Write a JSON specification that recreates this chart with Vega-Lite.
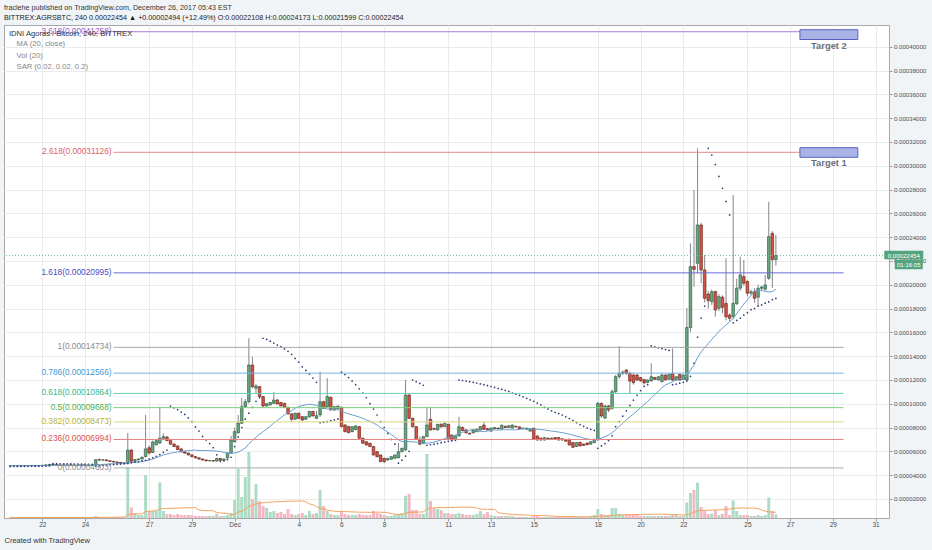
{
"$schema": "https://vega.github.io/schema/vega-lite/v6.json",
"width": 885, "height": 493,
"autosize": {"type": "none"},
"padding": {"left": 4, "top": 25, "right": 43, "bottom": 32},
"background": "#f1f4f7",
"view": {"fill": "#ffffff", "stroke": "#a8a8a8", "strokeWidth": 1},
"config": {
  "font": "Liberation Sans",
  "view": {"fill": "#ffffff", "stroke": "#a8a8a8", "strokeWidth": 1},
  "axis": {"gridColor": "#ebebeb", "gridWidth": 1, "domain": false, "tickColor": "#9a9a9a", "labelColor": "#4d4d4d", "labelOverlap": false, "labelSeparation": 0},
  "axisY": {"labelOverlap": false, "labelBound": false}
},
"title": {
  "text": "fraclehe published on TradingView.com, December 26, 2017 05:43 EST",
  "subtitle": "BITTREX:AGRSBTC, 240  0.00022454 ▲ +0.00002494 (+12.49%)  O:0.00022108  H:0.00024173  L:0.00021599  C:0.00022454",
  "anchor": "start", "frame": "group", "offset": 4,
  "fontSize": 7.2, "fontWeight": "normal", "color": "#333333",
  "subtitleFontSize": 7.2, "subtitleColor": "#1a1a1a", "subtitlePadding": 3
},
"datasets": {
"candles": [
{"t":"2017-11-20T12:00Z","o":4780e-8,"h":4820e-8,"l":4750e-8,"c":4790e-8,"v":1,"s":4720e-8},
{"t":"2017-11-20T16:00Z","o":4790e-8,"h":4830e-8,"l":4760e-8,"c":4800e-8,"v":1,"s":4725e-8},
{"t":"2017-11-20T20:00Z","o":4800e-8,"h":4840e-8,"l":4770e-8,"c":4780e-8,"v":1,"s":4730e-8},
{"t":"2017-11-21T00:00Z","o":4780e-8,"h":4810e-8,"l":4750e-8,"c":4770e-8,"v":1,"s":4735e-8},
{"t":"2017-11-21T04:00Z","o":4770e-8,"h":4800e-8,"l":4740e-8,"c":4790e-8,"v":1,"s":4738e-8},
{"t":"2017-11-21T08:00Z","o":4790e-8,"h":4830e-8,"l":4770e-8,"c":4810e-8,"v":1,"s":4742e-8},
{"t":"2017-11-21T12:00Z","o":4810e-8,"h":4840e-8,"l":4780e-8,"c":4790e-8,"v":1,"s":4745e-8},
{"t":"2017-11-21T16:00Z","o":4790e-8,"h":4820e-8,"l":4760e-8,"c":4780e-8,"v":1,"s":4748e-8},
{"t":"2017-11-21T20:00Z","o":4780e-8,"h":4810e-8,"l":4760e-8,"c":4800e-8,"v":1,"s":4750e-8},
{"t":"2017-11-22T00:00Z","o":4800e-8,"h":4850e-8,"l":4780e-8,"c":4830e-8,"v":1,"s":4755e-8},
{"t":"2017-11-22T04:00Z","o":4830e-8,"h":4880e-8,"l":4810e-8,"c":4860e-8,"v":1,"s":4760e-8},
{"t":"2017-11-22T08:00Z","o":4860e-8,"h":4920e-8,"l":4840e-8,"c":4900e-8,"v":1,"s":4770e-8},
{"t":"2017-11-22T12:00Z","o":4900e-8,"h":4940e-8,"l":4860e-8,"c":4870e-8,"v":1,"s":4960e-8},
{"t":"2017-11-22T16:00Z","o":4870e-8,"h":4900e-8,"l":4830e-8,"c":4850e-8,"v":1,"s":4955e-8},
{"t":"2017-11-22T20:00Z","o":4850e-8,"h":4890e-8,"l":4820e-8,"c":4860e-8,"v":1,"s":4950e-8},
{"t":"2017-11-23T00:00Z","o":4860e-8,"h":4900e-8,"l":4830e-8,"c":4840e-8,"v":1,"s":4945e-8},
{"t":"2017-11-23T04:00Z","o":4840e-8,"h":4880e-8,"l":4810e-8,"c":4850e-8,"v":1,"s":4940e-8},
{"t":"2017-11-23T08:00Z","o":4850e-8,"h":4890e-8,"l":4820e-8,"c":4830e-8,"v":1,"s":4935e-8},
{"t":"2017-11-23T12:00Z","o":4830e-8,"h":4860e-8,"l":4800e-8,"c":4820e-8,"v":1,"s":4930e-8},
{"t":"2017-11-23T16:00Z","o":4820e-8,"h":4850e-8,"l":4790e-8,"c":4810e-8,"v":1,"s":4925e-8},
{"t":"2017-11-23T20:00Z","o":4810e-8,"h":4840e-8,"l":4780e-8,"c":4800e-8,"v":1,"s":4920e-8},
{"t":"2017-11-24T00:00Z","o":4800e-8,"h":4830e-8,"l":4770e-8,"c":4790e-8,"v":1,"s":4915e-8},
{"t":"2017-11-24T04:00Z","o":4790e-8,"h":4830e-8,"l":4770e-8,"c":4810e-8,"v":1,"s":4910e-8},
{"t":"2017-11-24T08:00Z","o":4810e-8,"h":4870e-8,"l":4790e-8,"c":4850e-8,"v":1,"s":4905e-8},
{"t":"2017-11-24T12:00Z","o":4850e-8,"h":5350e-8,"l":4830e-8,"c":5300e-8,"v":4,"s":4760e-8},
{"t":"2017-11-24T16:00Z","o":5300e-8,"h":5380e-8,"l":5220e-8,"c":5260e-8,"v":2,"s":4780e-8},
{"t":"2017-11-24T20:00Z","o":5260e-8,"h":5330e-8,"l":5200e-8,"c":5280e-8,"v":2,"s":4810e-8},
{"t":"2017-11-25T00:00Z","o":5280e-8,"h":5320e-8,"l":5180e-8,"c":5200e-8,"v":2,"s":4840e-8},
{"t":"2017-11-25T04:00Z","o":5200e-8,"h":5260e-8,"l":5120e-8,"c":5150e-8,"v":2,"s":4870e-8},
{"t":"2017-11-25T08:00Z","o":5150e-8,"h":5200e-8,"l":5050e-8,"c":5100e-8,"v":2,"s":4890e-8},
{"t":"2017-11-25T12:00Z","o":5100e-8,"h":5150e-8,"l":5020e-8,"c":5060e-8,"v":2,"s":4910e-8},
{"t":"2017-11-25T16:00Z","o":5060e-8,"h":5100e-8,"l":4980e-8,"c":5020e-8,"v":2,"s":4930e-8},
{"t":"2017-11-25T20:00Z","o":5020e-8,"h":5080e-8,"l":4970e-8,"c":5000e-8,"v":3,"s":4950e-8},
{"t":"2017-11-26T00:00Z","o":5000e-8,"h":7540e-8,"l":4950e-8,"c":6100e-8,"v":102,"s":4970e-8},
{"t":"2017-11-26T04:00Z","o":6100e-8,"h":6200e-8,"l":5100e-8,"c":5170e-8,"v":21,"s":5030e-8},
{"t":"2017-11-26T08:00Z","o":5170e-8,"h":5350e-8,"l":5120e-8,"c":5300e-8,"v":10,"s":5090e-8},
{"t":"2017-11-26T12:00Z","o":5300e-8,"h":5420e-8,"l":5250e-8,"c":5350e-8,"v":6,"s":5140e-8},
{"t":"2017-11-26T16:00Z","o":5350e-8,"h":5560e-8,"l":5300e-8,"c":5500e-8,"v":6,"s":5190e-8},
{"t":"2017-11-26T20:00Z","o":5550e-8,"h":9050e-8,"l":5500e-8,"c":6200e-8,"v":86,"s":5240e-8},
{"t":"2017-11-27T00:00Z","o":6300e-8,"h":6500e-8,"l":5700e-8,"c":5860e-8,"v":14,"s":5350e-8},
{"t":"2017-11-27T04:00Z","o":5900e-8,"h":6900e-8,"l":5850e-8,"c":6780e-8,"v":14,"s":5450e-8},
{"t":"2017-11-27T08:00Z","o":6550e-8,"h":7000e-8,"l":6500e-8,"c":6900e-8,"v":14,"s":5580e-8},
{"t":"2017-11-27T12:00Z","o":6700e-8,"h":9750e-8,"l":6600e-8,"c":7100e-8,"v":71,"s":5720e-8},
{"t":"2017-11-27T16:00Z","o":7100e-8,"h":7500e-8,"l":6950e-8,"c":7230e-8,"v":14,"s":5900e-8},
{"t":"2017-11-27T20:00Z","o":7200e-8,"h":7300e-8,"l":6850e-8,"c":6900e-8,"v":8,"s":6100e-8},
{"t":"2017-11-28T00:00Z","o":6900e-8,"h":6950e-8,"l":6550e-8,"c":6600e-8,"v":8,"s":9800e-8},
{"t":"2017-11-28T04:00Z","o":6600e-8,"h":6700e-8,"l":6350e-8,"c":6400e-8,"v":6,"s":9650e-8},
{"t":"2017-11-28T08:00Z","o":6450e-8,"h":6500e-8,"l":6100e-8,"c":6150e-8,"v":8,"s":9500e-8},
{"t":"2017-11-28T12:00Z","o":6200e-8,"h":6250e-8,"l":5900e-8,"c":5950e-8,"v":6,"s":9300e-8},
{"t":"2017-11-28T16:00Z","o":5950e-8,"h":6050e-8,"l":5800e-8,"c":5850e-8,"v":6,"s":9100e-8},
{"t":"2017-11-28T20:00Z","o":5850e-8,"h":5900e-8,"l":5650e-8,"c":5700e-8,"v":6,"s":8800e-8},
{"t":"2017-11-29T00:00Z","o":5700e-8,"h":5750e-8,"l":5500e-8,"c":5550e-8,"v":6,"s":8500e-8},
{"t":"2017-11-29T04:00Z","o":5550e-8,"h":5600e-8,"l":5400e-8,"c":5450e-8,"v":4,"s":8050e-8},
{"t":"2017-11-29T08:00Z","o":5450e-8,"h":5500e-8,"l":5300e-8,"c":5350e-8,"v":4,"s":7700e-8},
{"t":"2017-11-29T12:00Z","o":5350e-8,"h":5400e-8,"l":5230e-8,"c":5270e-8,"v":4,"s":7250e-8},
{"t":"2017-11-29T16:00Z","o":5270e-8,"h":5300e-8,"l":5150e-8,"c":5200e-8,"v":4,"s":6950e-8},
{"t":"2017-11-29T20:00Z","o":5200e-8,"h":5280e-8,"l":5150e-8,"c":5220e-8,"v":4,"s":6650e-8},
{"t":"2017-11-30T00:00Z","o":5220e-8,"h":5260e-8,"l":5120e-8,"c":5180e-8,"v":4,"s":6300e-8},
{"t":"2017-11-30T04:00Z","o":5180e-8,"h":5450e-8,"l":5150e-8,"c":5400e-8,"v":8,"s":5700e-8},
{"t":"2017-11-30T08:00Z","o":5400e-8,"h":5420e-8,"l":5200e-8,"c":5250e-8,"v":4,"s":5150e-8},
{"t":"2017-11-30T12:00Z","o":5250e-8,"h":5380e-8,"l":5200e-8,"c":5350e-8,"v":4,"s":5200e-8},
{"t":"2017-11-30T16:00Z","o":5440e-8,"h":5900e-8,"l":5400e-8,"c":5860e-8,"v":6,"s":5300e-8},
{"t":"2017-11-30T20:00Z","o":5850e-8,"h":7300e-8,"l":5800e-8,"c":6950e-8,"v":10,"s":5500e-8},
{"t":"2017-12-01T00:00Z","o":6800e-8,"h":8000e-8,"l":6750e-8,"c":7650e-8,"v":36,"s":6400e-8},
{"t":"2017-12-01T04:00Z","o":7550e-8,"h":9050e-8,"l":7500e-8,"c":8380e-8,"v":98,"s":7200e-8},
{"t":"2017-12-01T08:00Z","o":8350e-8,"h":10480e-8,"l":8300e-8,"c":9750e-8,"v":42,"s":8000e-8},
{"t":"2017-12-01T12:00Z","o":9750e-8,"h":10400e-8,"l":9650e-8,"c":10170e-8,"v":82,"s":8700e-8},
{"t":"2017-12-01T16:00Z","o":10170e-8,"h":15500e-8,"l":10000e-8,"c":13250e-8,"v":132,"s":9200e-8},
{"t":"2017-12-01T20:00Z","o":13250e-8,"h":13950e-8,"l":11300e-8,"c":11430e-8,"v":38,"s":9700e-8},
{"t":"2017-12-02T00:00Z","o":11300e-8,"h":11650e-8,"l":10900e-8,"c":11490e-8,"v":68,"s":10200e-8},
{"t":"2017-12-02T04:00Z","o":11430e-8,"h":11500e-8,"l":10550e-8,"c":10600e-8,"v":34,"s":10500e-8},
{"t":"2017-12-02T08:00Z","o":10600e-8,"h":10650e-8,"l":9700e-8,"c":9810e-8,"v":24,"s":15500e-8},
{"t":"2017-12-02T12:00Z","o":9810e-8,"h":10050e-8,"l":9750e-8,"c":10000e-8,"v":20,"s":15400e-8},
{"t":"2017-12-02T16:00Z","o":9900e-8,"h":10150e-8,"l":9850e-8,"c":10100e-8,"v":12,"s":15250e-8},
{"t":"2017-12-02T20:00Z","o":10030e-8,"h":11000e-8,"l":9980e-8,"c":10310e-8,"v":14,"s":15100e-8},
{"t":"2017-12-03T00:00Z","o":10310e-8,"h":10400e-8,"l":9950e-8,"c":9980e-8,"v":10,"s":14930e-8},
{"t":"2017-12-03T04:00Z","o":10100e-8,"h":10150e-8,"l":9780e-8,"c":9810e-8,"v":12,"s":14800e-8},
{"t":"2017-12-03T08:00Z","o":10030e-8,"h":10080e-8,"l":9650e-8,"c":9700e-8,"v":8,"s":14600e-8},
{"t":"2017-12-03T12:00Z","o":9700e-8,"h":9750e-8,"l":9100e-8,"c":9140e-8,"v":18,"s":14400e-8},
{"t":"2017-12-03T16:00Z","o":9140e-8,"h":9200e-8,"l":8500e-8,"c":8690e-8,"v":8,"s":14150e-8},
{"t":"2017-12-03T20:00Z","o":8690e-8,"h":9250e-8,"l":8650e-8,"c":9200e-8,"v":6,"s":13800e-8},
{"t":"2017-12-04T00:00Z","o":9200e-8,"h":9250e-8,"l":8700e-8,"c":8770e-8,"v":8,"s":13500e-8},
{"t":"2017-12-04T04:00Z","o":8910e-8,"h":8950e-8,"l":8550e-8,"c":8630e-8,"v":10,"s":13100e-8},
{"t":"2017-12-04T08:00Z","o":8690e-8,"h":8950e-8,"l":8650e-8,"c":8910e-8,"v":6,"s":12800e-8},
{"t":"2017-12-04T12:00Z","o":8880e-8,"h":9400e-8,"l":8850e-8,"c":9350e-8,"v":14,"s":12500e-8},
{"t":"2017-12-04T16:00Z","o":9350e-8,"h":9400e-8,"l":8950e-8,"c":8970e-8,"v":8,"s":12150e-8},
{"t":"2017-12-04T20:00Z","o":8770e-8,"h":9400e-8,"l":8700e-8,"c":8990e-8,"v":10,"s":11800e-8},
{"t":"2017-12-05T00:00Z","o":9050e-8,"h":12690e-8,"l":8900e-8,"c":10170e-8,"v":56,"s":8400e-8},
{"t":"2017-12-05T04:00Z","o":10170e-8,"h":10250e-8,"l":9550e-8,"c":9610e-8,"v":24,"s":8450e-8},
{"t":"2017-12-05T08:00Z","o":9750e-8,"h":12140e-8,"l":9700e-8,"c":10600e-8,"v":14,"s":8500e-8},
{"t":"2017-12-05T12:00Z","o":10540e-8,"h":10600e-8,"l":9400e-8,"c":9470e-8,"v":8,"s":8580e-8},
{"t":"2017-12-05T16:00Z","o":9470e-8,"h":9800e-8,"l":9400e-8,"c":9750e-8,"v":6,"s":8650e-8},
{"t":"2017-12-05T20:00Z","o":9600e-8,"h":9850e-8,"l":9550e-8,"c":9800e-8,"v":6,"s":8720e-8},
{"t":"2017-12-06T00:00Z","o":9700e-8,"h":9750e-8,"l":8000e-8,"c":8070e-8,"v":14,"s":12650e-8},
{"t":"2017-12-06T04:00Z","o":8210e-8,"h":8300e-8,"l":7600e-8,"c":7650e-8,"v":8,"s":12450e-8},
{"t":"2017-12-06T08:00Z","o":8070e-8,"h":8150e-8,"l":7500e-8,"c":7570e-8,"v":6,"s":12200e-8},
{"t":"2017-12-06T12:00Z","o":7650e-8,"h":8100e-8,"l":7600e-8,"c":8070e-8,"v":6,"s":11900e-8},
{"t":"2017-12-06T16:00Z","o":7820e-8,"h":8200e-8,"l":7780e-8,"c":8130e-8,"v":6,"s":11600e-8},
{"t":"2017-12-06T20:00Z","o":8070e-8,"h":8100e-8,"l":7050e-8,"c":7100e-8,"v":8,"s":11250e-8},
{"t":"2017-12-07T00:00Z","o":7100e-8,"h":7150e-8,"l":6650e-8,"c":6680e-8,"v":6,"s":10900e-8},
{"t":"2017-12-07T04:00Z","o":6800e-8,"h":6850e-8,"l":6500e-8,"c":6530e-8,"v":6,"s":10500e-8},
{"t":"2017-12-07T08:00Z","o":6680e-8,"h":6700e-8,"l":6350e-8,"c":6400e-8,"v":6,"s":10000e-8},
{"t":"2017-12-07T12:00Z","o":6400e-8,"h":6450e-8,"l":5650e-8,"c":5690e-8,"v":14,"s":9550e-8},
{"t":"2017-12-07T16:00Z","o":5970e-8,"h":6000e-8,"l":5500e-8,"c":5550e-8,"v":10,"s":9050e-8},
{"t":"2017-12-07T20:00Z","o":5690e-8,"h":5720e-8,"l":5100e-8,"c":5130e-8,"v":8,"s":8500e-8},
{"t":"2017-12-08T00:00Z","o":5410e-8,"h":5450e-8,"l":5000e-8,"c":5130e-8,"v":6,"s":8000e-8},
{"t":"2017-12-08T04:00Z","o":5270e-8,"h":5420e-8,"l":5200e-8,"c":5400e-8,"v":4,"s":7500e-8},
{"t":"2017-12-08T08:00Z","o":5330e-8,"h":5580e-8,"l":5300e-8,"c":5550e-8,"v":4,"s":7000e-8},
{"t":"2017-12-08T12:00Z","o":5410e-8,"h":5720e-8,"l":5380e-8,"c":5690e-8,"v":6,"s":6600e-8},
{"t":"2017-12-08T16:00Z","o":5460e-8,"h":6700e-8,"l":5420e-8,"c":5970e-8,"v":8,"s":5000e-8},
{"t":"2017-12-08T20:00Z","o":5970e-8,"h":6300e-8,"l":5900e-8,"c":6250e-8,"v":10,"s":5250e-8},
{"t":"2017-12-09T00:00Z","o":6110e-8,"h":11990e-8,"l":6050e-8,"c":10730e-8,"v":44,"s":5600e-8},
{"t":"2017-12-09T04:00Z","o":10730e-8,"h":10800e-8,"l":8700e-8,"c":8770e-8,"v":48,"s":6000e-8},
{"t":"2017-12-09T08:00Z","o":8770e-8,"h":8850e-8,"l":8000e-8,"c":8070e-8,"v":16,"s":11990e-8},
{"t":"2017-12-09T12:00Z","o":8070e-8,"h":8100e-8,"l":6950e-8,"c":7000e-8,"v":16,"s":11850e-8},
{"t":"2017-12-09T16:00Z","o":7000e-8,"h":7250e-8,"l":6500e-8,"c":6600e-8,"v":8,"s":11700e-8},
{"t":"2017-12-09T20:00Z","o":6680e-8,"h":7300e-8,"l":6600e-8,"c":7230e-8,"v":8,"s":11550e-8},
{"t":"2017-12-10T00:00Z","o":7230e-8,"h":9750e-8,"l":7200e-8,"c":8210e-8,"v":128,"s":6500e-8},
{"t":"2017-12-10T04:00Z","o":8690e-8,"h":9750e-8,"l":7750e-8,"c":7790e-8,"v":34,"s":6550e-8},
{"t":"2017-12-10T08:00Z","o":7900e-8,"h":8000e-8,"l":7800e-8,"c":7850e-8,"v":20,"s":6600e-8},
{"t":"2017-12-10T12:00Z","o":7790e-8,"h":8300e-8,"l":7750e-8,"c":8270e-8,"v":18,"s":6660e-8},
{"t":"2017-12-10T16:00Z","o":8270e-8,"h":8350e-8,"l":8000e-8,"c":8050e-8,"v":16,"s":6720e-8},
{"t":"2017-12-10T20:00Z","o":8070e-8,"h":8400e-8,"l":8050e-8,"c":8350e-8,"v":10,"s":6780e-8},
{"t":"2017-12-11T00:00Z","o":8270e-8,"h":8300e-8,"l":7050e-8,"c":7100e-8,"v":10,"s":6840e-8},
{"t":"2017-12-11T04:00Z","o":7370e-8,"h":7400e-8,"l":6900e-8,"c":6950e-8,"v":8,"s":6880e-8},
{"t":"2017-12-11T08:00Z","o":7000e-8,"h":7350e-8,"l":6950e-8,"c":7300e-8,"v":8,"s":6920e-8},
{"t":"2017-12-11T12:00Z","o":7290e-8,"h":8900e-8,"l":7250e-8,"c":8070e-8,"v":10,"s":11990e-8},
{"t":"2017-12-11T16:00Z","o":8000e-8,"h":8100e-8,"l":7700e-8,"c":7750e-8,"v":8,"s":11950e-8},
{"t":"2017-12-11T20:00Z","o":7800e-8,"h":7850e-8,"l":7500e-8,"c":7550e-8,"v":6,"s":11900e-8},
{"t":"2017-12-12T00:00Z","o":7500e-8,"h":7600e-8,"l":7400e-8,"c":7450e-8,"v":6,"s":11850e-8},
{"t":"2017-12-12T04:00Z","o":7550e-8,"h":7850e-8,"l":7500e-8,"c":7800e-8,"v":6,"s":11800e-8},
{"t":"2017-12-12T08:00Z","o":7650e-8,"h":7900e-8,"l":7600e-8,"c":7850e-8,"v":8,"s":11740e-8},
{"t":"2017-12-12T12:00Z","o":7790e-8,"h":8100e-8,"l":7750e-8,"c":8070e-8,"v":14,"s":11660e-8},
{"t":"2017-12-12T16:00Z","o":8210e-8,"h":8500e-8,"l":7800e-8,"c":7850e-8,"v":8,"s":11600e-8},
{"t":"2017-12-12T20:00Z","o":7900e-8,"h":7950e-8,"l":7750e-8,"c":7800e-8,"v":12,"s":11520e-8},
{"t":"2017-12-13T00:00Z","o":7700e-8,"h":8000e-8,"l":7650e-8,"c":7950e-8,"v":6,"s":11440e-8},
{"t":"2017-12-13T04:00Z","o":7900e-8,"h":8050e-8,"l":7850e-8,"c":8000e-8,"v":4,"s":11370e-8},
{"t":"2017-12-13T08:00Z","o":7950e-8,"h":8000e-8,"l":7850e-8,"c":7900e-8,"v":4,"s":11280e-8},
{"t":"2017-12-13T12:00Z","o":7880e-8,"h":8250e-8,"l":7850e-8,"c":8190e-8,"v":4,"s":11200e-8},
{"t":"2017-12-13T16:00Z","o":8100e-8,"h":8150e-8,"l":7950e-8,"c":8000e-8,"v":4,"s":11120e-8},
{"t":"2017-12-13T20:00Z","o":8000e-8,"h":8200e-8,"l":7950e-8,"c":8150e-8,"v":4,"s":11030e-8},
{"t":"2017-12-14T00:00Z","o":7960e-8,"h":8250e-8,"l":7900e-8,"c":8210e-8,"v":4,"s":10900e-8},
{"t":"2017-12-14T04:00Z","o":8100e-8,"h":8150e-8,"l":8000e-8,"c":8050e-8,"v":2,"s":10800e-8},
{"t":"2017-12-14T08:00Z","o":8050e-8,"h":8100e-8,"l":7850e-8,"c":7900e-8,"v":2,"s":10700e-8},
{"t":"2017-12-14T12:00Z","o":7900e-8,"h":8000e-8,"l":7850e-8,"c":7950e-8,"v":2,"s":10580e-8},
{"t":"2017-12-14T16:00Z","o":7850e-8,"h":7980e-8,"l":7800e-8,"c":7950e-8,"v":2,"s":10450e-8},
{"t":"2017-12-14T20:00Z","o":7700e-8,"h":7950e-8,"l":7650e-8,"c":7920e-8,"v":2,"s":10330e-8},
{"t":"2017-12-15T00:00Z","o":7940e-8,"h":7980e-8,"l":7000e-8,"c":7020e-8,"v":4,"s":10200e-8},
{"t":"2017-12-15T04:00Z","o":7290e-8,"h":7320e-8,"l":6900e-8,"c":6950e-8,"v":4,"s":10050e-8},
{"t":"2017-12-15T08:00Z","o":7100e-8,"h":7150e-8,"l":6900e-8,"c":6950e-8,"v":2,"s":9900e-8},
{"t":"2017-12-15T12:00Z","o":6950e-8,"h":7200e-8,"l":6900e-8,"c":7150e-8,"v":2,"s":9700e-8},
{"t":"2017-12-15T16:00Z","o":7100e-8,"h":7150e-8,"l":7000e-8,"c":7050e-8,"v":2,"s":9550e-8},
{"t":"2017-12-15T20:00Z","o":7050e-8,"h":7150e-8,"l":7000e-8,"c":7100e-8,"v":2,"s":9400e-8},
{"t":"2017-12-16T00:00Z","o":7150e-8,"h":7200e-8,"l":7000e-8,"c":7050e-8,"v":2,"s":9280e-8},
{"t":"2017-12-16T04:00Z","o":7150e-8,"h":7200e-8,"l":6900e-8,"c":6950e-8,"v":2,"s":9170e-8},
{"t":"2017-12-16T08:00Z","o":7050e-8,"h":7100e-8,"l":6900e-8,"c":6950e-8,"v":2,"s":9050e-8},
{"t":"2017-12-16T12:00Z","o":7000e-8,"h":7050e-8,"l":6800e-8,"c":6850e-8,"v":2,"s":8900e-8},
{"t":"2017-12-16T16:00Z","o":7010e-8,"h":7050e-8,"l":6500e-8,"c":6530e-8,"v":4,"s":8750e-8},
{"t":"2017-12-16T20:00Z","o":6730e-8,"h":6780e-8,"l":6300e-8,"c":6340e-8,"v":4,"s":8600e-8},
{"t":"2017-12-17T00:00Z","o":6400e-8,"h":6780e-8,"l":6350e-8,"c":6730e-8,"v":2,"s":8400e-8},
{"t":"2017-12-17T04:00Z","o":6750e-8,"h":6800e-8,"l":6400e-8,"c":6450e-8,"v":2,"s":8250e-8},
{"t":"2017-12-17T08:00Z","o":6600e-8,"h":6650e-8,"l":6450e-8,"c":6500e-8,"v":2,"s":8100e-8},
{"t":"2017-12-17T12:00Z","o":6700e-8,"h":6750e-8,"l":6500e-8,"c":6560e-8,"v":2,"s":7950e-8},
{"t":"2017-12-17T16:00Z","o":6600e-8,"h":6850e-8,"l":6550e-8,"c":6800e-8,"v":4,"s":7850e-8},
{"t":"2017-12-17T20:00Z","o":6730e-8,"h":7050e-8,"l":6700e-8,"c":7010e-8,"v":6,"s":7750e-8},
{"t":"2017-12-18T00:00Z","o":6950e-8,"h":10170e-8,"l":6900e-8,"c":10030e-8,"v":18,"s":6250e-8},
{"t":"2017-12-18T04:00Z","o":10030e-8,"h":10100e-8,"l":8800e-8,"c":8970e-8,"v":8,"s":6450e-8},
{"t":"2017-12-18T08:00Z","o":8800e-8,"h":9900e-8,"l":8700e-8,"c":9810e-8,"v":6,"s":6650e-8},
{"t":"2017-12-18T12:00Z","o":9810e-8,"h":9900e-8,"l":9300e-8,"c":9470e-8,"v":6,"s":6900e-8},
{"t":"2017-12-18T16:00Z","o":9610e-8,"h":11200e-8,"l":9500e-8,"c":11010e-8,"v":20,"s":7300e-8},
{"t":"2017-12-18T20:00Z","o":11010e-8,"h":12400e-8,"l":10900e-8,"c":12270e-8,"v":20,"s":8070e-8},
{"t":"2017-12-19T00:00Z","o":12270e-8,"h":14850e-8,"l":12100e-8,"c":12550e-8,"v":8,"s":8500e-8},
{"t":"2017-12-19T04:00Z","o":12550e-8,"h":12800e-8,"l":12400e-8,"c":12650e-8,"v":6,"s":8950e-8},
{"t":"2017-12-19T08:00Z","o":12830e-8,"h":12900e-8,"l":12400e-8,"c":12550e-8,"v":7,"s":9400e-8},
{"t":"2017-12-19T12:00Z","o":12550e-8,"h":12700e-8,"l":10900e-8,"c":11900e-8,"v":7,"s":9850e-8},
{"t":"2017-12-19T16:00Z","o":12400e-8,"h":12600e-8,"l":11600e-8,"c":11770e-8,"v":6,"s":10300e-8},
{"t":"2017-12-19T20:00Z","o":12410e-8,"h":12500e-8,"l":11900e-8,"c":11990e-8,"v":6,"s":10700e-8},
{"t":"2017-12-20T00:00Z","o":12200e-8,"h":12250e-8,"l":11850e-8,"c":11920e-8,"v":4,"s":11100e-8},
{"t":"2017-12-20T04:00Z","o":12030e-8,"h":12080e-8,"l":11600e-8,"c":11750e-8,"v":4,"s":11450e-8},
{"t":"2017-12-20T08:00Z","o":11800e-8,"h":12050e-8,"l":11700e-8,"c":11990e-8,"v":4,"s":11600e-8},
{"t":"2017-12-20T12:00Z","o":11920e-8,"h":13400e-8,"l":11850e-8,"c":12270e-8,"v":4,"s":14850e-8},
{"t":"2017-12-20T16:00Z","o":12200e-8,"h":12250e-8,"l":12000e-8,"c":12050e-8,"v":4,"s":14780e-8},
{"t":"2017-12-20T20:00Z","o":12000e-8,"h":12300e-8,"l":11950e-8,"c":12270e-8,"v":4,"s":14700e-8},
{"t":"2017-12-21T00:00Z","o":11850e-8,"h":12600e-8,"l":11800e-8,"c":12410e-8,"v":4,"s":14620e-8},
{"t":"2017-12-21T04:00Z","o":12410e-8,"h":12450e-8,"l":11950e-8,"c":12000e-8,"v":4,"s":14550e-8},
{"t":"2017-12-21T08:00Z","o":12050e-8,"h":12500e-8,"l":12000e-8,"c":12470e-8,"v":4,"s":14480e-8},
{"t":"2017-12-21T12:00Z","o":12550e-8,"h":14650e-8,"l":11900e-8,"c":11990e-8,"v":7,"s":11600e-8},
{"t":"2017-12-21T16:00Z","o":11990e-8,"h":12300e-8,"l":11950e-8,"c":12270e-8,"v":7,"s":11650e-8},
{"t":"2017-12-21T20:00Z","o":12470e-8,"h":12500e-8,"l":11950e-8,"c":11990e-8,"v":4,"s":11720e-8},
{"t":"2017-12-22T00:00Z","o":12050e-8,"h":12450e-8,"l":12000e-8,"c":12400e-8,"v":4,"s":11800e-8},
{"t":"2017-12-22T04:00Z","o":12000e-8,"h":18040e-8,"l":11950e-8,"c":16400e-8,"v":31,"s":11900e-8},
{"t":"2017-12-22T08:00Z","o":16400e-8,"h":23480e-8,"l":16000e-8,"c":21520e-8,"v":50,"s":12300e-8},
{"t":"2017-12-22T12:00Z","o":21520e-8,"h":27960e-8,"l":19830e-8,"c":21290e-8,"v":56,"s":13400e-8},
{"t":"2017-12-22T16:00Z","o":21800e-8,"h":31460e-8,"l":20960e-8,"c":25020e-8,"v":71,"s":15600e-8},
{"t":"2017-12-22T20:00Z","o":25020e-8,"h":25200e-8,"l":20120e-8,"c":21240e-8,"v":22,"s":17200e-8},
{"t":"2017-12-23T00:00Z","o":21240e-8,"h":22500e-8,"l":18500e-8,"c":18860e-8,"v":14,"s":18200e-8},
{"t":"2017-12-23T04:00Z","o":19220e-8,"h":19500e-8,"l":18000e-8,"c":18660e-8,"v":8,"s":31460e-8},
{"t":"2017-12-23T08:00Z","o":18570e-8,"h":19600e-8,"l":18300e-8,"c":19420e-8,"v":9,"s":30900e-8},
{"t":"2017-12-23T12:00Z","o":19420e-8,"h":19500e-8,"l":17310e-8,"c":17880e-8,"v":16,"s":30100e-8},
{"t":"2017-12-23T16:00Z","o":18020e-8,"h":19200e-8,"l":17800e-8,"c":19000e-8,"v":6,"s":29100e-8},
{"t":"2017-12-23T20:00Z","o":18950e-8,"h":19100e-8,"l":17600e-8,"c":18100e-8,"v":8,"s":28100e-8},
{"t":"2017-12-24T00:00Z","o":18430e-8,"h":22220e-8,"l":17000e-8,"c":17310e-8,"v":24,"s":27000e-8},
{"t":"2017-12-24T04:00Z","o":17450e-8,"h":17600e-8,"l":16900e-8,"c":17180e-8,"v":6,"s":25860e-8},
{"t":"2017-12-24T08:00Z","o":17310e-8,"h":27540e-8,"l":17100e-8,"c":18430e-8,"v":35,"s":16800e-8},
{"t":"2017-12-24T12:00Z","o":18400e-8,"h":20500e-8,"l":18300e-8,"c":19710e-8,"v":14,"s":17000e-8},
{"t":"2017-12-24T16:00Z","o":19710e-8,"h":22360e-8,"l":19500e-8,"c":20820e-8,"v":6,"s":17200e-8},
{"t":"2017-12-24T20:00Z","o":20680e-8,"h":22080e-8,"l":19900e-8,"c":20120e-8,"v":6,"s":17450e-8},
{"t":"2017-12-25T00:00Z","o":20260e-8,"h":20400e-8,"l":19000e-8,"c":19280e-8,"v":6,"s":17650e-8},
{"t":"2017-12-25T04:00Z","o":19300e-8,"h":19600e-8,"l":19100e-8,"c":19400e-8,"v":4,"s":17900e-8},
{"t":"2017-12-25T08:00Z","o":19420e-8,"h":19700e-8,"l":18500e-8,"c":18860e-8,"v":4,"s":18000e-8},
{"t":"2017-12-25T12:00Z","o":18950e-8,"h":20000e-8,"l":18150e-8,"c":19700e-8,"v":6,"s":18200e-8},
{"t":"2017-12-25T16:00Z","o":19700e-8,"h":19900e-8,"l":19500e-8,"c":19800e-8,"v":4,"s":18300e-8},
{"t":"2017-12-25T20:00Z","o":19620e-8,"h":20820e-8,"l":19500e-8,"c":19980e-8,"v":6,"s":18450e-8},
{"t":"2017-12-26T00:00Z","o":20540e-8,"h":26980e-8,"l":20400e-8,"c":24040e-8,"v":41,"s":18550e-8},
{"t":"2017-12-26T04:00Z","o":24320e-8,"h":24500e-8,"l":19710e-8,"c":22108e-8,"v":14,"s":18750e-8},
{"t":"2017-12-26T08:00Z","o":22108e-8,"h":24173e-8,"l":21599e-8,"c":22454e-8,"v":7,"s":18850e-8}
],
"fib": [
{"level":"3.618","price":41258e-8,"label":"3.618(0.00041258)","start":"2017-11-25T08:00Z","end":"2017-12-29T12:00Z"},
{"level":"2.618","price":31126e-8,"label":"2.618(0.00031126)","start":"2017-11-25T08:00Z","end":"2017-12-29T12:00Z"},
{"level":"1.618","price":20995e-8,"label":"1.618(0.00020995)","start":"2017-11-25T08:00Z","end":"2017-12-29T12:00Z"},
{"level":"1","price":14734e-8,"label":"1(0.00014734)","start":"2017-11-25T08:00Z","end":"2017-12-29T12:00Z"},
{"level":"0.786","price":12566e-8,"label":"0.786(0.00012566)","start":"2017-11-25T08:00Z","end":"2017-12-29T12:00Z"},
{"level":"0.618","price":10864e-8,"label":"0.618(0.00010864)","start":"2017-11-25T08:00Z","end":"2017-12-29T12:00Z"},
{"level":"0.5","price":9668e-8,"label":"0.5(0.00009668)","start":"2017-11-25T08:00Z","end":"2017-12-29T12:00Z"},
{"level":"0.382","price":8473e-8,"label":"0.382(0.00008473)","start":"2017-11-25T08:00Z","end":"2017-12-29T12:00Z"},
{"level":"0.236","price":6994e-8,"label":"0.236(0.00006994)","start":"2017-11-25T08:00Z","end":"2017-12-29T12:00Z"},
{"level":"0","price":4603e-8,"label":"0(0.00004603)","start":"2017-11-25T08:00Z","end":"2017-12-29T12:00Z"}
],
"targets": [
{"label":"Target 2","start":"2017-12-27T11:00Z","end":"2017-12-30T04:00Z","top":41428e-8,"bottom":40605e-8},
{"label":"Target 1","start":"2017-12-27T11:00Z","end":"2017-12-30T04:00Z","top":31513e-8,"bottom":30706e-8}
],
"last": [{"price":22454e-8,"label":"0.00022454","countdown":"01:16:05"}],
"indicators": [{"name":"MA (20, close)"},{"name":"Vol (20)"},{"name":"SAR (0.02, 0.02, 0.2)"}]
},
"layer": [
{
  "data": {"name": "candles"},
  "encoding": {
    "x": {"field": "t", "type": "temporal", "title": "Created with  TradingView",
      "scale": {"type": "utc", "domain": [{"year":2017,"month":11,"date":20,"hours":10,"minutes":34,"utc":true},{"year":2017,"month":12,"date":31,"hours":9,"minutes":26,"utc":true}]},
      "axis": {
        "values": [{"year":2017,"month":11,"date":22,"utc":true},{"year":2017,"month":11,"date":24,"utc":true},{"year":2017,"month":11,"date":27,"utc":true},{"year":2017,"month":11,"date":29,"utc":true},{"year":2017,"month":12,"date":1,"utc":true},{"year":2017,"month":12,"date":4,"utc":true},{"year":2017,"month":12,"date":6,"utc":true},{"year":2017,"month":12,"date":8,"utc":true},{"year":2017,"month":12,"date":11,"utc":true},{"year":2017,"month":12,"date":13,"utc":true},{"year":2017,"month":12,"date":15,"utc":true},{"year":2017,"month":12,"date":18,"utc":true},{"year":2017,"month":12,"date":20,"utc":true},{"year":2017,"month":12,"date":22,"utc":true},{"year":2017,"month":12,"date":25,"utc":true},{"year":2017,"month":12,"date":27,"utc":true},{"year":2017,"month":12,"date":29,"utc":true},{"year":2017,"month":12,"date":31,"utc":true}],
        "tickCount": 40,
        "labelExpr": "utcFormat(datum.value, '%d') == '01' ? utcFormat(datum.value, '%b') : utcFormat(datum.value, '%-d')",
        "grid": true, "tickSize": 3, "labelFontSize": 6.6, "labelPadding": 0, "labelFlush": false, "labelOverlap": false,
        "titleAnchor": "start", "titleAlign": "left", "titleX": 0, "titleY": 22, "titleBaseline": "middle",
        "titleFontSize": 7.5, "titleFontWeight": "normal", "titleColor": "#333333"
      }
    }
  },
  "layer": [
    {
      "mark": {"type": "bar", "size": 3},
      "encoding": {
        "y": {"field": "v", "type": "quantitative", "scale": {"domain": [0, 986], "nice": false}, "axis": null, "title": null},
        "color": {"condition": {"test": "datum.c >= datum.o", "value": "#acdcc4"}, "value": "#f5b7c3"}
      }
    },
    {
      "transform": [{"window": [{"op": "mean", "field": "v", "as": "vma"}], "frame": [-19, 0], "sort": [{"field": "t"}]}],
      "mark": {"type": "line", "color": "#f5a25d", "strokeWidth": 1},
      "encoding": {
        "y": {"field": "vma", "type": "quantitative", "scale": {"domain": [0, 986], "nice": false}, "axis": null, "title": null}
      }
    }
  ]
},
{
  "layer": [
    {
      "data": {"name": "candles"},
      "encoding": {
        "x": {"field": "t", "type": "temporal", "title": "Created with  TradingView",
          "scale": {"type": "utc", "domain": [{"year":2017,"month":11,"date":20,"hours":10,"minutes":34,"utc":true},{"year":2017,"month":12,"date":31,"hours":9,"minutes":26,"utc":true}]}}
      },
      "layer": [
        {
          "mark": {"type": "rule", "color": "#86868a", "strokeWidth": 1},
          "encoding": {
            "y": {"field": "l", "type": "quantitative", "title": null,
              "scale": {"domain": [395e-8, 41824e-8], "nice": false, "zero": false},
              "axis": {"orient": "right", "values": [2e-5,4e-5,6e-5,8e-5,10e-5,12e-5,14e-5,16e-5,18e-5,20e-5,22e-5,24e-5,26e-5,28e-5,30e-5,32e-5,34e-5,36e-5,38e-5,40e-5],
                "tickCount": 40,
                "format": ".8f", "labelFontSize": 6.1, "labelPadding": 1.5, "tickSize": 3, "grid": true, "labelOverlap": false, "labelBound": false, "title": null, "labelBaseline": "middle", "labelAlign": "left"}},
            "y2": {"field": "h", "title": null}
          }
        },
        {
          "mark": {"type": "bar", "size": 2.6, "strokeWidth": 0.6},
          "encoding": {
            "y": {"field": "o", "type": "quantitative", "title": null, "scale": {"domain": [395e-8, 41824e-8], "nice": false, "zero": false}},
            "y2": {"field": "c", "title": null},
            "fill": {"condition": {"test": "datum.c >= datum.o", "value": "#6ba583"}, "value": "#d75442"},
            "stroke": {"condition": {"test": "datum.c >= datum.o", "value": "#225437"}, "value": "#5b1a13"}
          }
        },
        {
          "transform": [{"window": [{"op": "mean", "field": "c", "as": "ma"}], "frame": [-19, 0], "sort": [{"field": "t"}]}],
          "mark": {"type": "line", "color": "#6a9fd0", "strokeWidth": 1},
          "encoding": {
            "y": {"field": "ma", "type": "quantitative", "title": null, "scale": {"domain": [395e-8, 41824e-8], "nice": false, "zero": false}}
          }
        },
        {
          "mark": {"type": "circle", "size": 3, "color": "#2e3b78", "opacity": 1},
          "encoding": {
            "y": {"field": "s", "type": "quantitative", "title": null, "scale": {"domain": [395e-8, 41824e-8], "nice": false, "zero": false}}
          }
        }
      ]
    },
    {
      "data": {"name": "fib"},
      "mark": {"type": "rule", "strokeWidth": 1},
      "encoding": {
        "x": {"field": "start", "type": "temporal", "title": "Created with  TradingView",
          "scale": {"type": "utc", "domain": [{"year":2017,"month":11,"date":20,"hours":10,"minutes":34,"utc":true},{"year":2017,"month":12,"date":31,"hours":9,"minutes":26,"utc":true}]}},
        "x2": {"field": "end", "title": null},
        "y": {"field": "price", "type": "quantitative", "title": null, "scale": {"domain": [395e-8, 41824e-8], "nice": false, "zero": false}},
        "stroke": {"field": "level", "type": "nominal", "legend": null,
          "scale": {"domain": ["3.618","2.618","1.618","1","0.786","0.618","0.5","0.382","0.236","0"],
                    "range": ["#b07cd8","#e48a92","#6b6bd6","#a8a8a8","#72b4e6","#66d1b5","#7ccf7c","#d9d97a","#e88080","#a8a8a8"]}}
      }
    },
    {
      "data": {"name": "fib"},
      "mark": {"type": "text", "align": "right", "baseline": "middle", "dx": -2, "fontSize": 8.3},
      "encoding": {
        "x": {"field": "start", "type": "temporal", "title": "Created with  TradingView",
          "scale": {"type": "utc", "domain": [{"year":2017,"month":11,"date":20,"hours":10,"minutes":34,"utc":true},{"year":2017,"month":12,"date":31,"hours":9,"minutes":26,"utc":true}]}},
        "y": {"field": "price", "type": "quantitative", "title": null, "scale": {"domain": [395e-8, 41824e-8], "nice": false, "zero": false}},
        "text": {"field": "label"},
        "fill": {"field": "level", "type": "nominal", "legend": null,
          "scale": {"domain": ["3.618","2.618","1.618","1","0.786","0.618","0.5","0.382","0.236","0"],
                    "range": ["#9c5cc8","#dd5c6a","#4a4ac4","#8a8a8a","#3f9ad6","#2fb591","#4cae4c","#b3b33a","#e05050","#8a8a8a"]}}
      }
    },
    {
      "data": {"name": "last"},
      "mark": {"type": "rule", "strokeDash": [1, 2], "color": "#6cbf96", "strokeWidth": 1},
      "encoding": {
        "y": {"field": "price", "type": "quantitative", "title": null, "scale": {"domain": [395e-8, 41824e-8], "nice": false, "zero": false}}
      }
    },
    {
      "data": {"name": "targets"},
      "mark": {"type": "rect", "fill": "#aab3e6", "stroke": "#5563bf", "strokeWidth": 1, "opacity": 1},
      "encoding": {
        "x": {"field": "start", "type": "temporal", "title": "Created with  TradingView",
          "scale": {"type": "utc", "domain": [{"year":2017,"month":11,"date":20,"hours":10,"minutes":34,"utc":true},{"year":2017,"month":12,"date":31,"hours":9,"minutes":26,"utc":true}]}},
        "x2": {"field": "end", "title": null},
        "y": {"field": "top", "type": "quantitative", "title": null, "scale": {"domain": [395e-8, 41824e-8], "nice": false, "zero": false}},
        "y2": {"field": "bottom", "title": null}
      }
    },
    {
      "data": {"name": "targets"},
      "mark": {"type": "text", "fontWeight": "bold", "fontSize": 9.4, "color": "#69727d", "baseline": "top", "align": "center", "dy": 2, "dx": 29},
      "encoding": {
        "x": {"field": "start", "type": "temporal", "title": "Created with  TradingView",
          "scale": {"type": "utc", "domain": [{"year":2017,"month":11,"date":20,"hours":10,"minutes":34,"utc":true},{"year":2017,"month":12,"date":31,"hours":9,"minutes":26,"utc":true}]}},
        "y": {"field": "bottom", "type": "quantitative", "title": null, "scale": {"domain": [395e-8, 41824e-8], "nice": false, "zero": false}},
        "text": {"field": "label"}
      }
    },
    {
      "data": {"name": "last"},
      "mark": {"type": "point", "filled": true, "opacity": 1, "strokeWidth": 0, "color": "#53a37c", "size": 1521,
               "shape": "M-1,-0.246H1V0.195H-1Z M-0.46,0.23H0.974V0.708H-0.46Z"},
      "encoding": {
        "x": {"datum": {"year":2018,"month":1,"date":1,"hours":7,"minutes":38,"utc":true}, "type": "temporal", "title": "Created with  TradingView",
          "scale": {"type": "utc", "domain": [{"year":2017,"month":11,"date":20,"hours":10,"minutes":34,"utc":true},{"year":2017,"month":12,"date":31,"hours":9,"minutes":26,"utc":true}]}},
        "y": {"field": "price", "type": "quantitative", "title": null, "scale": {"domain": [395e-8, 41824e-8], "nice": false, "zero": false}}
      }
    },
    {
      "data": {"name": "last"},
      "mark": {"type": "text", "color": "#ffffff", "fontSize": 6.1, "align": "center", "baseline": "middle"},
      "encoding": {
        "x": {"datum": {"year":2018,"month":1,"date":1,"hours":7,"minutes":38,"utc":true}, "type": "temporal", "title": "Created with  TradingView",
          "scale": {"type": "utc", "domain": [{"year":2017,"month":11,"date":20,"hours":10,"minutes":34,"utc":true},{"year":2017,"month":12,"date":31,"hours":9,"minutes":26,"utc":true}]}},
        "y": {"field": "price", "type": "quantitative", "title": null, "scale": {"domain": [395e-8, 41824e-8], "nice": false, "zero": false}},
        "text": {"field": "label"}
      }
    },
    {
      "data": {"name": "last"},
      "mark": {"type": "text", "color": "#ffffff", "fontSize": 6.1, "align": "center", "baseline": "middle", "dx": 5, "dy": 9.5},
      "encoding": {
        "x": {"datum": {"year":2018,"month":1,"date":1,"hours":7,"minutes":38,"utc":true}, "type": "temporal", "title": "Created with  TradingView",
          "scale": {"type": "utc", "domain": [{"year":2017,"month":11,"date":20,"hours":10,"minutes":34,"utc":true},{"year":2017,"month":12,"date":31,"hours":9,"minutes":26,"utc":true}]}},
        "y": {"field": "price", "type": "quantitative", "title": null, "scale": {"domain": [395e-8, 41824e-8], "nice": false, "zero": false}},
        "text": {"field": "countdown"}
      }
    },
    {
      "data": {"name": "indicators"},
      "mark": {"type": "point", "opacity": 0},
      "encoding": {
        "color": {"field": "name", "type": "nominal", "sort": null,
          "scale": {"range": ["#888888", "#888888", "#888888"]},
          "legend": {"orient": "none", "legendX": 5, "legendY": 4.5, "title": "IDNI Agoras / Bitcoin, 240, BITTREX",
            "titleColor": "#2f2f2f", "titleFontSize": 7.6, "titleFontWeight": "normal", "titlePadding": 3.5, "titleLimit": 400,
            "labelFontSize": 7.6, "labelColor": "#858585", "labelLimit": 400, "labelOffset": 0,
            "symbolSize": 1, "symbolOpacity": 0, "symbolStrokeWidth": 0, "rowPadding": 2.4, "padding": 0}}
      }
    }
  ]
}
],
"resolve": {"scale": {"y": "independent"}}
}
